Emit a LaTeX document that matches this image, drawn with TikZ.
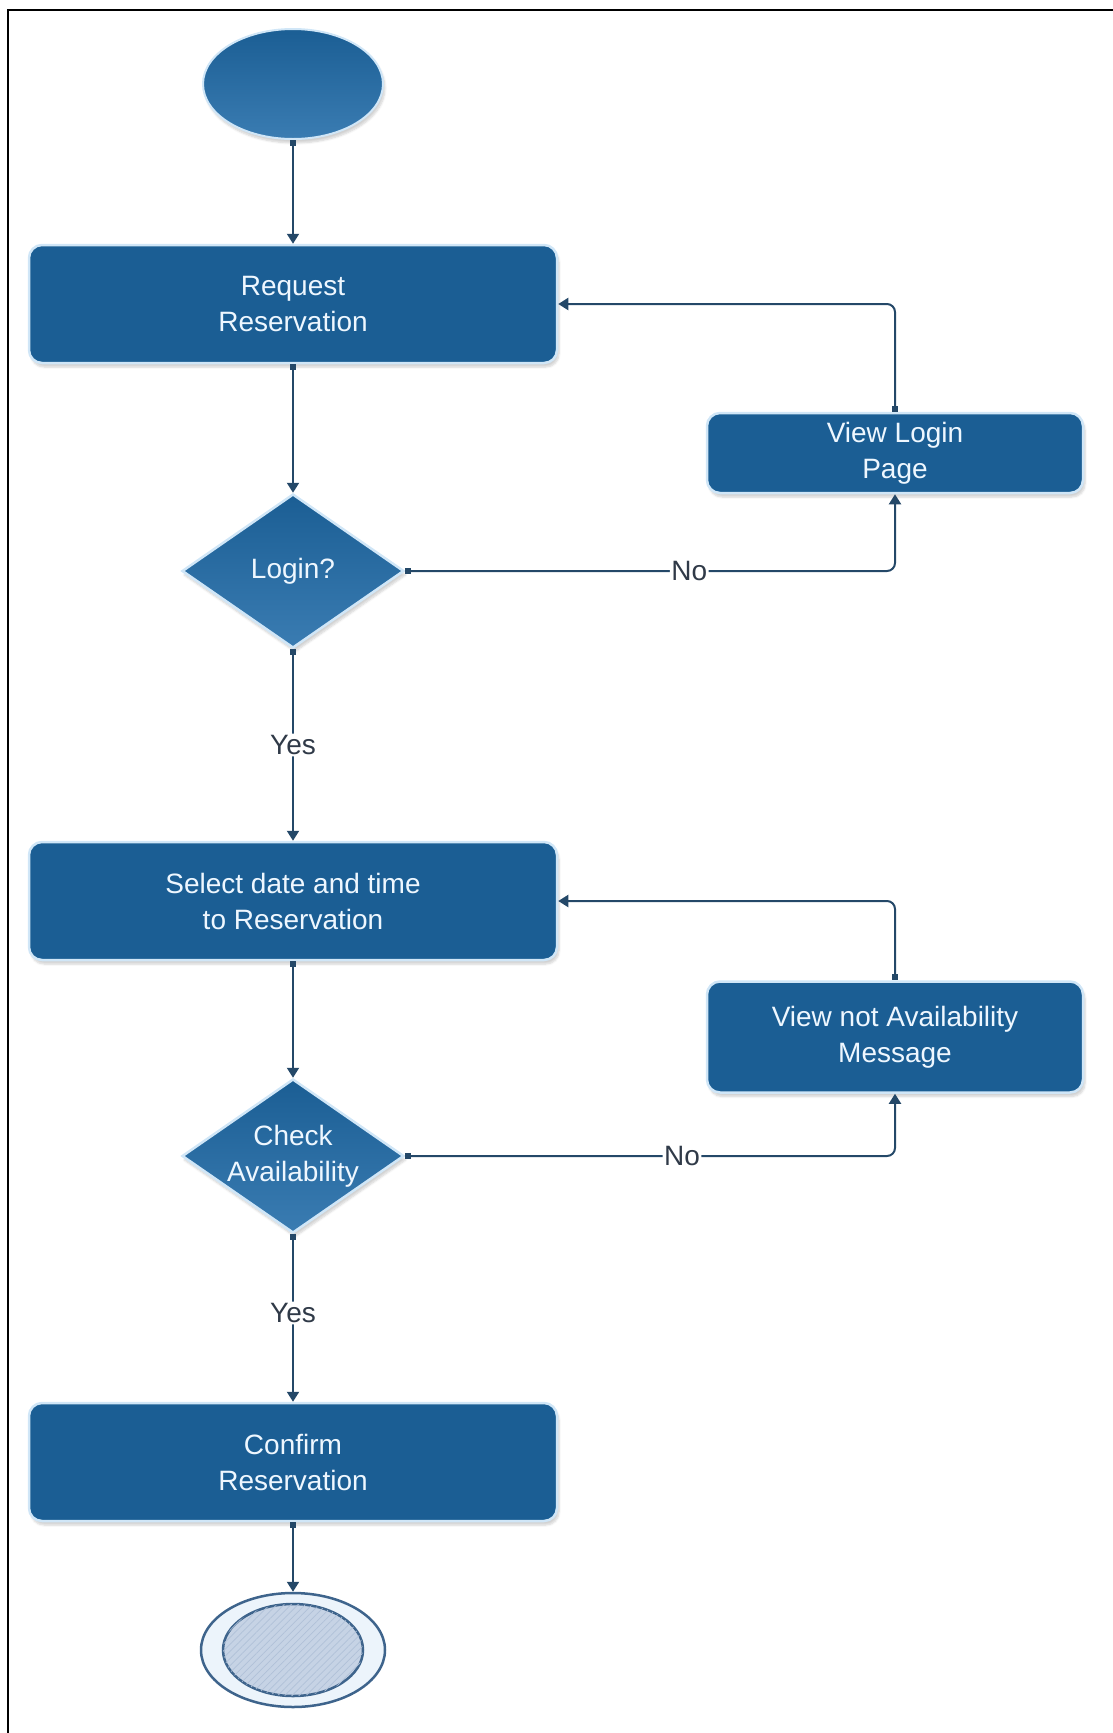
\documentclass[tikz,border=0pt]{standalone}
\usepackage{fontspec}
\setmainfont{Liberation Sans}
\usetikzlibrary{shapes.geometric, arrows.meta, shadows.blur, patterns.meta}

\definecolor{boxblue}{RGB}{27,94,148}
\definecolor{boxlight}{RGB}{58,124,178}
\definecolor{halo}{RGB}{208,230,247}
\definecolor{wire}{RGB}{36,72,104}
\definecolor{lbltext}{RGB}{48,58,72}
\definecolor{txtwhite}{RGB}{238,247,255}
\definecolor{endfill}{RGB}{198,211,229}
\definecolor{endhatch}{RGB}{176,193,216}
\definecolor{endring}{RGB}{62,100,140}
\definecolor{ringfill}{RGB}{236,244,251}

\begin{document}
\begin{tikzpicture}[x=1pt, y=-1pt,
  every node/.style={font=\fontsize{28}{36}\selectfont},
  softshadow/.style={blur shadow={shadow xshift=2pt, shadow yshift=-4pt,
      shadow opacity=18, shadow blur steps=6}},
  box/.style={rectangle, rounded corners=13pt, fill=boxblue, draw=halo,
      line width=2.5pt, text=txtwhite, align=center, inner sep=0pt, softshadow},
  mainbox/.style={box, minimum width=528pt, minimum height=118pt},
  sidebox/.style={box, minimum width=376pt},
  dia/.style={diamond, minimum width=222pt, minimum height=154pt, inner sep=0pt,
      top color=boxblue, bottom color=boxlight, draw=halo, line width=2.5pt, softshadow},
  diatext/.style={text=txtwhite, align=center, inner sep=0pt},
  startst/.style={ellipse, minimum width=180pt, minimum height=110pt, inner sep=0pt,
      top color=boxblue, bottom color=boxlight, draw=halo, line width=2pt, softshadow},
  endouter/.style={ellipse, minimum width=184pt, minimum height=114pt, inner sep=0pt,
      fill=ringfill, draw=endring, line width=2.5pt},
  endinner/.style={ellipse, minimum width=140pt, minimum height=92pt, inner sep=0pt,
      fill=endfill, draw=endring, line width=2.5pt,
      postaction={pattern={Lines[angle=45, distance=5pt, line width=0.7pt]},
                  pattern color=endhatch}},
  conn/.style={draw=wire, line width=2pt, rounded corners=8pt,
      arrows={Square[length=6pt, width=6pt]-Triangle[length=10pt, width=12pt]}},
  lbl/.style={fill=white, text=lbltext, inner sep=1.5pt},
]
\useasboundingbox (0,0) rectangle (1113,1733);

% frame lines
\draw[black, line width=2.5pt] (8,1733) -- (8,10) -- (1113,10);

% shapes
\node[startst] (start) at (293,84) {};
\node[mainbox] (req) at (293,304) {Request\\Reservation};
\node[sidebox, minimum height=80pt] (vl) at (895,453) {View Login\\Page};
\node[dia] (login) at (293,571) {};
\node[diatext] (logintxt) at (login) {Login?};
\node[mainbox] (sel) at (293,901) {Select date and time\\to Reservation};
\node[sidebox, minimum height=111pt] (vna) at (895,1037) {View not Availability\\Message};
\node[dia] (check) at (293,1156) {};
\node[diatext] (checktxt) at (check) {Check\\Availability};
\node[mainbox] (conf) at (293,1462) {Confirm\\Reservation};
\node[endouter] (stop) at (293,1650) {};
\node[endinner] (stopin) at (stop) {};

% connectors
\draw[conn] (start) -- (req);
\draw[conn] (req) -- (login);
\draw[conn] (login.east) -- node[lbl, pos=0.58] {No} (login.east -| vl.south) -- (vl.south);
\draw[conn] (vl.north) -- (vl.north |- req.east) -- (req.east);
\draw[conn] (login.south) -- node[lbl] {Yes} (sel.north);
\draw[conn] (sel) -- (check);
\draw[conn] (check.east) -- node[lbl, pos=0.565] {No} (check.east -| vna.south) -- (vna.south);
\draw[conn] (vna.north) -- (vna.north |- sel.east) -- (sel.east);
\draw[conn] (check.south) -- node[lbl, pos=0.47] {Yes} (conf.north);
\draw[conn] (conf) -- (stop);
\end{tikzpicture}
\end{document}
